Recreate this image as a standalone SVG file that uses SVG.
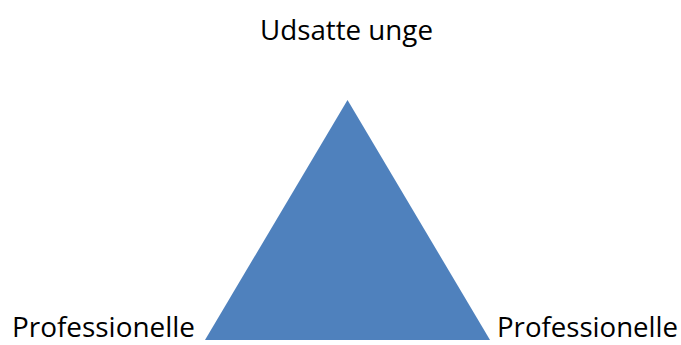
<svg xmlns="http://www.w3.org/2000/svg" width="681" height="345" viewBox="0 0 681 345">
<style>
.lbl{font-family:"Open Sans","Liberation Sans",sans-serif;font-size:27px;fill:#000}
</style>
<rect width="681" height="345" fill="#fff"/>
<g id="triangle"><polygon points="347.5,100 205,340 490,340" fill="#4F81BD"/></g>
<g id="top"><text class="lbl" x="260" y="40" textLength="173" lengthAdjust="spacingAndGlyphs">Udsatte unge</text></g>
<g id="left"><text class="lbl" x="12" y="337" textLength="183" lengthAdjust="spacingAndGlyphs">Professionelle</text></g>
<g id="right"><text class="lbl" x="497" y="337" textLength="181" lengthAdjust="spacingAndGlyphs">Professionelle</text></g>
<g id="connectors"/>
</svg>
